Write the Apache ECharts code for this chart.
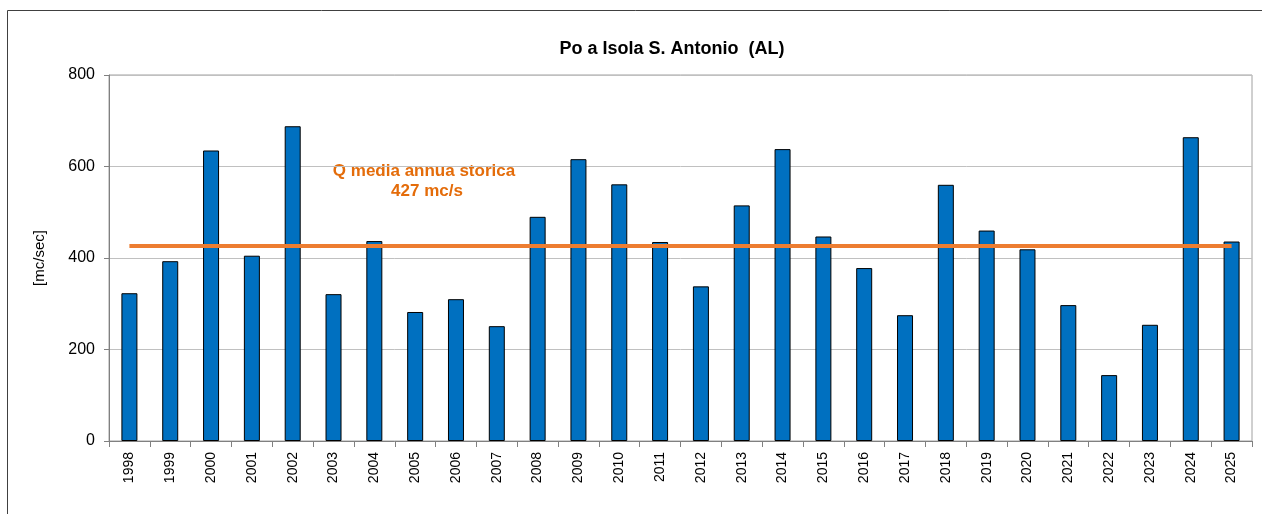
<!DOCTYPE html>
<html>
<head>
<meta charset="utf-8">
<script src="https://cdn.jsdelivr.net/npm/echarts@6/dist/echarts.min.js"></script>
<style>
  html, body { margin: 0; padding: 0; background: #fff; }
  #chart { width: 1262px; height: 514px; }
</style>
</head>
<body>
<div id="chart"></div>
<script>
// anni
var years = ['1998', '1999', '2000', '2001', '2002', '2003', '2004', '2005', '2006', '2007',
  '2008', '2009', '2010', '2011', '2012', '2013', '2014', '2015', '2016', '2017',
  '2018', '2019', '2020', '2021', '2022', '2023', '2024', '2025'];
// portata media annua [mc/sec]
var flow = [323, 393, 635, 405, 688, 321, 437, 282, 310, 251,
  490, 616, 561, 435, 338, 515, 638, 447, 378, 275,
  560, 460, 419, 297, 144, 254, 664, 436];
// media storica
var meanFlow = 427;
var yTicks = [0, 200, 400, 600, 800];

var chart = echarts.init(document.getElementById('chart'));

var option = {
  backgroundColor: '#fff',
  animation: false,
  textStyle: { fontFamily: 'Liberation Sans, Arial, sans-serif' },
  title: {
    text: 'Po a Isola S. Antonio  (AL)',
    left: 667,
    top: 35,
    textAlign: 'center',
    textStyle: { fontSize: 18, fontWeight: 'bold', color: '#000' }
  },
  grid: {
    left: 109,
    right: 10,
    top: 75,
    bottom: 73,
    show: true,
    borderColor: '#a0a0a0',
    borderWidth: 1
  },
  xAxis: {
    type: 'category',
    data: years,
    boundaryGap: true,
    axisLine: { lineStyle: { color: '#808080', width: 1 } },
    axisTick: { show: true, length: 6, lineStyle: { color: '#808080' } },
    axisLabel: { rotate: 90, fontSize: 14, color: '#000', margin: 11, interval: 0 }
  },
  yAxis: {
    type: 'value',
    min: yTicks[0],
    max: yTicks[yTicks.length - 1],
    interval: 200,
    name: '[mc/sec]',
    nameLocation: 'middle',
    nameGap: 62,
    nameRotate: 90,
    nameTextStyle: { fontSize: 15, color: '#000' },
    axisLine: { show: true, lineStyle: { color: '#808080', width: 1 } },
    axisTick: { show: true, length: 5, lineStyle: { color: '#808080' } },
    axisLabel: { fontSize: 16, color: '#000', margin: 14 },
    splitLine: { lineStyle: { color: '#c0c0c0', width: 1 } }
  },
  series: [{
    name: 'portata',
    type: 'bar',
    data: flow,
    barWidth: 16,
    itemStyle: { color: '#0070C0', borderColor: '#000', borderWidth: 1 },
    markLine: {
      silent: true,
      symbol: 'none',
      label: { show: false },
      lineStyle: { color: '#ED7D31', width: 4, type: 'solid' },
      data: [[
        { coord: [years[0], meanFlow] },
        { coord: [years[years.length - 1], meanFlow] }
      ]],
      z: 5
    }
  }],
  graphic: [
    {
      type: 'rect',
      shape: { x: 7.5, y: 10.5, width: 1300, height: 600 },
      style: { fill: 'none', stroke: '#404040', lineWidth: 1 },
      silent: true
    },
    {
      type: 'text',
      x: 424,
      y: 171,
      style: {
        text: 'Q media annua storica',
        fill: '#E46C0A',
        align: 'center',
        verticalAlign: 'middle',
        font: 'bold 17px Liberation Sans, Arial, sans-serif'
      }
    },
    {
      type: 'text',
      x: 427,
      y: 191,
      style: {
        text: meanFlow + ' mc/s',
        fill: '#E46C0A',
        align: 'center',
        verticalAlign: 'middle',
        font: 'bold 17px Liberation Sans, Arial, sans-serif'
      }
    }
  ]
};

chart.setOption(option);
</script>
</body>
</html>
